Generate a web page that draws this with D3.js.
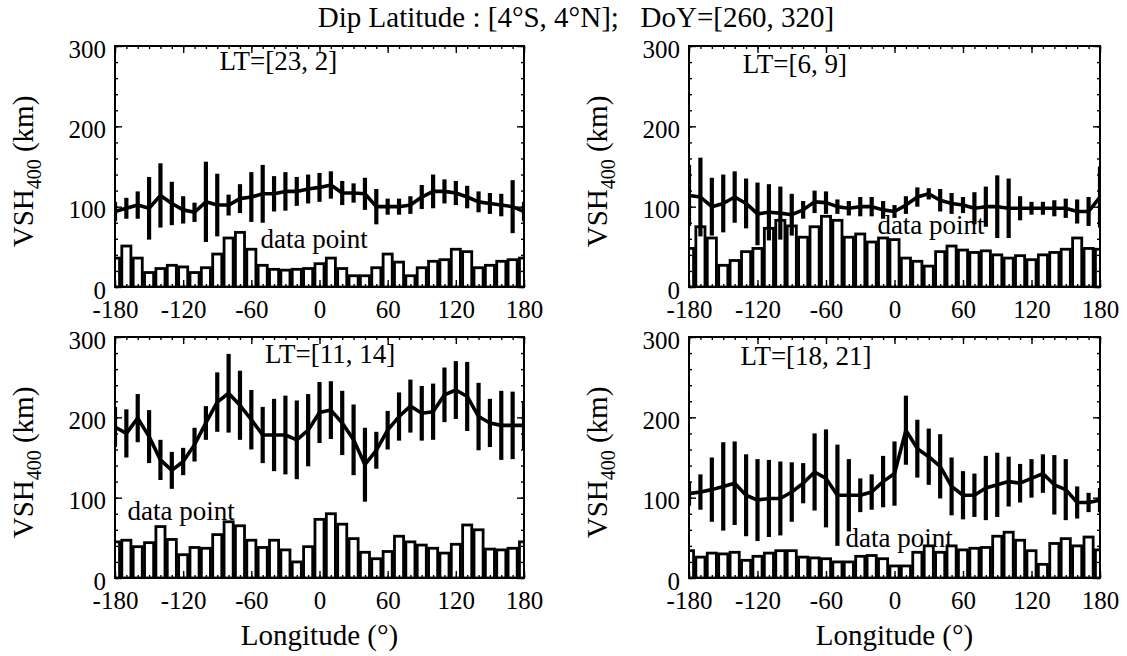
<!DOCTYPE html>
<html><head><meta charset="utf-8">
<script src="https://cdn.jsdelivr.net/npm/d3@7"></script>
<style>
html,body{margin:0;padding:0;background:#fff;}
svg{display:block;font-family:"Liberation Serif","DejaVu Serif","Noto Serif",serif;}
</style></head><body>
<svg id="fig" width="1127" height="656"></svg>
<script>
// Longitude bins (degrees) and axis ticks
const longitudes = [-180,-170,-160,-150,-140,-130,-120,-110,-100,-90,-80,-70,-60,-50,-40,-30,-20,-10,0,
                    10,20,30,40,50,60,70,80,90,100,110,120,130,140,150,160,170,180];
const xTicks = [-180,-120,-60,0,60,120,180];
const yTicks = [0,100,200,300];
const xMinorTicks = longitudes;
const yMinorTicks = [0,20,40,60,80,100,120,140,160,180,200,220,240,260,280,300];

const titleText = "Dip Latitude : [4°S, 4°N];   DoY=[260, 320]";
const xLabel = "Longitude (°)";
const countLabel = "data point";

// LT = [23, 2]
const vshLT23 = [94,98,102,98,114,104,96,93,106,102,102,110,112,116,116,119,119,122,124,127,117,117,116,100,100,100,102,112,119,119,117,112,106,104,102,100,94];
const errLT23 = [12,13,17,39,40,27,17,12,50,39,13,18,31,36,22,24,18,18,18,17,15,12,20,22,10,10,11,15,21,15,15,14,13,13,14,33,12];
const cntLT23 = [36,51,36,18,23,27,25,18,24,41,61,68,47,27,22,21,22,23,29,36,23,14,14,24,41,31,14,24,32,34,47,44,24,27,32,34,36];

// LT = [6, 9]
const vshLT06 = [114,112,100,104,112,104,91,93,92,90,96,106,105,100,98,100,100,96,94,102,112,116,108,104,102,98,100,100,98,98,98,98,98,98,94,94,112];
const errLT06 = [38,49,36,36,32,31,39,35,33,26,11,14,14,9,9,12,12,11,8,11,12,7,14,13,10,20,25,39,37,15,8,8,10,12,15,18,38];
const cntLT06 = [48,75,61,27,33,44,48,73,83,76,62,75,88,83,62,66,56,61,59,36,32,26,44,51,46,43,45,40,36,39,34,40,43,47,61,48,47];

// LT = [11, 14]
const vshLT11 = [188,180,199,176,147,134,145,166,193,219,230,215,197,178,178,178,172,184,206,209,193,172,141,159,184,201,214,205,207,228,234,226,201,193,190,190,190];
const errLT11 = [25,30,30,33,25,23,17,21,21,37,49,43,37,35,45,49,49,45,38,36,40,44,46,23,24,30,33,34,35,34,36,43,42,30,43,42,30];
const cntLT11 = [45,47,39,44,64,48,29,38,37,54,70,65,47,38,47,35,20,39,73,80,67,49,32,24,33,52,45,41,37,31,42,66,60,36,35,37,45];

// LT = [18, 21]
const vshLT18 = [105,107,110,114,118,103,97,99,99,107,118,132,124,103,103,103,107,120,130,184,161,151,139,114,103,103,112,116,120,118,124,130,116,110,94,94,97];
const errLT18 = [15,22,40,55,52,51,51,48,46,37,25,48,61,63,45,21,22,32,40,43,36,35,40,36,30,27,40,40,31,24,24,24,37,38,20,12,15];
const cntLT18 = [34,26,31,30,32,22,27,31,34,34,26,25,24,20,20,27,28,24,15,15,32,40,32,40,35,37,38,52,57,47,34,17,43,49,40,51,35];

// Panel layout (pixels) and annotation anchors (data coordinates)
const panels = [
  {lt:"LT=[23, 2]",  vsh:vshLT23, err:errLT23, cnt:cntLT23, x0:115, x1:524,  y0:46,  y1:287, ltAt:[-88,270],  dpAt:[-52,49],  xTitle:false},
  {lt:"LT=[6, 9]",   vsh:vshLT06, err:errLT06, cnt:cntLT06, x0:689, x1:1100, y0:46,  y1:287, ltAt:[-133,266], dpAt:[-15,66],  xTitle:false},
  {lt:"LT=[11, 14]", vsh:vshLT11, err:errLT11, cnt:cntLT11, x0:115, x1:524,  y0:337, y1:578, ltAt:[-48,268],  dpAt:[-169,72], xTitle:true},
  {lt:"LT=[18, 21]", vsh:vshLT18, err:errLT18, cnt:cntLT18, x0:689, x1:1100, y0:337, y1:578, ltAt:[-135,265], dpAt:[-43,39],  xTitle:true}
];

const svg = d3.select("#fig");
const FONT = '"Liberation Serif","DejaVu Serif","Noto Serif",serif';

svg.append("text")
  .attr("x", 576).attr("y", 27)
  .attr("text-anchor", "middle")
  .attr("font-family", FONT)
  .style("white-space", "pre")
  .attr("font-size", 29)
  .text(titleText);

panels.forEach((p, i) => {
  const x = d3.scaleLinear().domain([-180, 180]).range([p.x0, p.x1]);
  const y = d3.scaleLinear().domain([0, 300]).range([p.y1, p.y0]);
  const g = svg.append("g").attr("font-family", FONT);
  const clipId = "clip" + i;
  svg.append("clipPath").attr("id", clipId)
    .append("rect").attr("x", p.x0).attr("y", p.y0)
    .attr("width", p.x1 - p.x0).attr("height", p.y1 - p.y0);

  const plot = g.append("g").attr("clip-path", `url(#${clipId})`);
  const step = x(10) - x(0);
  const bw = step * 0.8;

  // sample-count histogram
  plot.selectAll("rect.cnt").data(longitudes).join("rect")
    .attr("class", "cnt")
    .attr("x", (d) => x(d) - bw / 2)
    .attr("width", bw)
    .attr("y", (d, j) => y(p.cnt[j]))
    .attr("height", (d, j) => y(0) - y(p.cnt[j]))
    .attr("fill", "#fff").attr("stroke", "#000").attr("stroke-width", 2.8);

  // error bars (±1 standard deviation)
  plot.selectAll("line.err").data(longitudes).join("line")
    .attr("class", "err")
    .attr("x1", (d) => x(d)).attr("x2", (d) => x(d))
    .attr("y1", (d, j) => y(p.vsh[j] - p.err[j]))
    .attr("y2", (d, j) => y(p.vsh[j] + p.err[j]))
    .attr("stroke", "#000").attr("stroke-width", 4.2);

  // mean VSH400 curve
  const line = d3.line().x((d) => x(d)).y((d, j) => y(p.vsh[j]));
  plot.append("path").datum(longitudes)
    .attr("d", line)
    .attr("fill", "none").attr("stroke", "#000")
    .attr("stroke-width", 3.6).attr("stroke-linejoin", "round");

  // axes: ticks pointing inward on all four sides
  const styleAxis = (sel) => {
    sel.attr("font-family", FONT).attr("font-size", 25);
    sel.select(".domain").remove();
    sel.selectAll(".tick line").attr("stroke", "#000").attr("stroke-width", 1.4);
    sel.selectAll(".tick text").attr("fill", "#000")
      .attr("font-family", FONT).attr("font-size", 25);
  };
  const plain = (d) => String(d);
  const xl = g.append("g").attr("transform", `translate(0,${p.y1})`)
    .call(d3.axisBottom(x).tickValues(xTicks).tickSize(-7).tickFormat(plain))
    .call(styleAxis);
  xl.selectAll(".tick text").attr("y", 31).attr("dy", 0);
  g.append("g").attr("transform", `translate(0,${p.y1})`)
    .call(d3.axisBottom(x).tickValues(xMinorTicks).tickSize(-3).tickFormat(""))
    .call(styleAxis);
  g.append("g").attr("transform", `translate(0,${p.y0})`)
    .call(d3.axisTop(x).tickValues(xMinorTicks).tickSize(-3).tickFormat(""))
    .call(styleAxis);
  g.append("g").attr("transform", `translate(0,${p.y0})`)
    .call(d3.axisTop(x).tickValues(xTicks).tickSize(-7).tickFormat(""))
    .call(styleAxis);
  g.append("g").attr("transform", `translate(${p.x0},0)`)
    .call(d3.axisLeft(y).tickValues(yMinorTicks).tickSize(-3).tickFormat(""))
    .call(styleAxis);
  const yl = g.append("g").attr("transform", `translate(${p.x0},0)`)
    .call(d3.axisLeft(y).tickValues(yTicks).tickSize(-7).tickPadding(9).tickFormat(plain))
    .call(styleAxis);
  yl.selectAll(".tick text").attr("dy", 11);
  g.append("g").attr("transform", `translate(${p.x1},0)`)
    .call(d3.axisRight(y).tickValues(yMinorTicks).tickSize(-3).tickFormat(""))
    .call(styleAxis);
  g.append("g").attr("transform", `translate(${p.x1},0)`)
    .call(d3.axisRight(y).tickValues(yTicks).tickSize(-7).tickFormat(""))
    .call(styleAxis);

  // frame
  g.append("rect").attr("x", p.x0).attr("y", p.y0)
    .attr("width", p.x1 - p.x0).attr("height", p.y1 - p.y0)
    .attr("fill", "none").attr("stroke", "#000").attr("stroke-width", 2);

  // annotations
  g.append("text").attr("x", x(p.ltAt[0])).attr("y", y(p.ltAt[1]))
    .attr("font-size", 27).text(p.lt);
  g.append("text").attr("x", x(p.dpAt[0])).attr("y", y(p.dpAt[1]))
    .attr("font-size", 27).text(countLabel);

  // y-axis title with subscript
  const cy = (p.y0 + p.y1) / 2 + 5;
  const yt = g.append("text")
    .attr("transform", `translate(${p.x0 - 82},${cy}) rotate(-90)`)
    .attr("text-anchor", "middle").attr("font-size", 29);
  yt.append("tspan").text("VSH");
  yt.append("tspan").attr("font-size", 20).attr("dy", 8).text("400");
  yt.append("tspan").attr("dy", -8).text(" (km)");

  if (p.xTitle) {
    g.append("text").attr("x", (p.x0 + p.x1) / 2).attr("y", 645)
      .attr("text-anchor", "middle").attr("font-size", 29).text(xLabel);
  }
});
</script>
</body></html>
